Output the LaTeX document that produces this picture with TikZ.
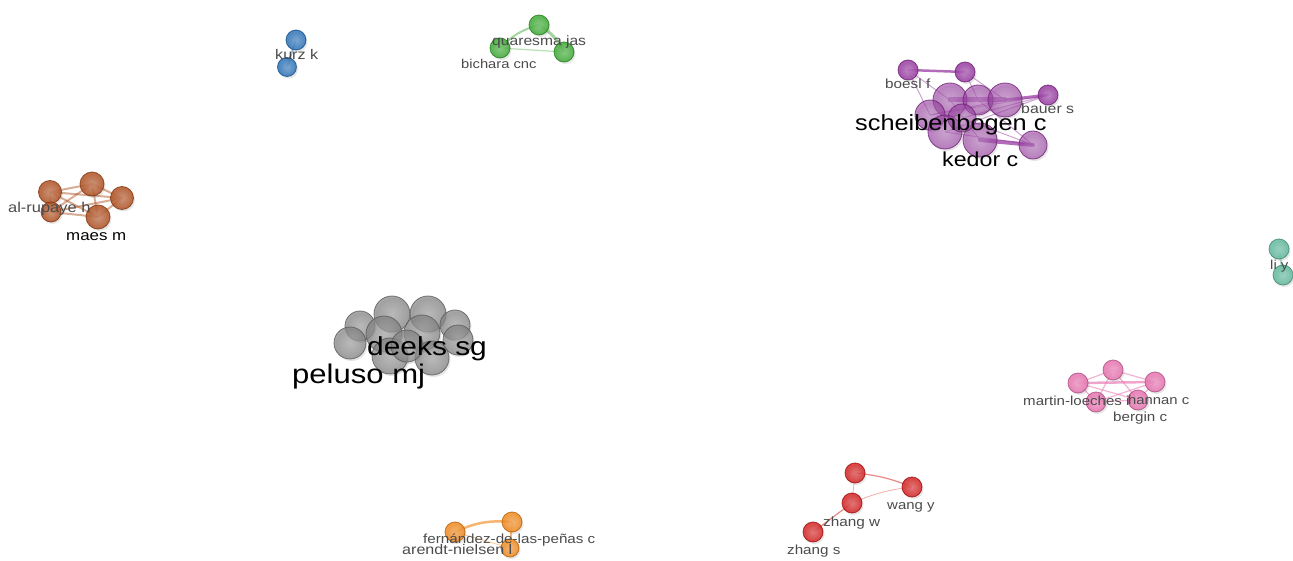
\documentclass[tikz,border=0pt]{standalone}
\usepackage{fontspec}
\setmainfont{Liberation Sans}
\usetikzlibrary{shadows}
\definecolor{brownc}{RGB}{170,70,20}
\definecolor{bluec}{RGB}{30,105,180}
\definecolor{greenc}{RGB}{50,165,40}
\definecolor{purplec}{RGB}{145,45,155}
\definecolor{grayc}{RGB}{120,120,120}
\definecolor{pinkc}{RGB}{230,105,170}
\definecolor{redc}{RGB}{210,20,20}
\definecolor{orangec}{RGB}{240,130,15}
\definecolor{tealc}{RGB}{85,180,150}
\definecolor{labelgray}{RGB}{75,75,75}
\newcommand\sx[1]{\scalebox{1.15}[1]{#1}}
\newcommand\fs[1]{\fontsize{#1}{#1}\selectfont}
\tikzset{
  vn/.style={circle, inner sep=0pt, inner color=#1!65, outer color=#1!95, fill opacity=0.85, draw=#1!75!black, draw opacity=0.8, line width=0.8pt,
    drop shadow={shadow xshift=1.5pt, shadow yshift=-2pt, opacity=0.2}},
  ed/.style={draw=#1, line width=2pt, draw opacity=0.45, line cap=round},
  ted/.style={draw=#1, line width=0.6pt, draw opacity=0.35},
  lbl/.style={anchor=base west, inner sep=0pt, text=labelgray},
  big/.style={anchor=base west, inner sep=0pt, text=black}
}
\begin{document}
\begin{tikzpicture}[x=1pt,y=-1pt]
\useasboundingbox (0,0) rectangle (1293,561);
% ---------- brown cluster
\coordinate (b1) at (50,192);
\coordinate (b2) at (92,184);
\coordinate (b3) at (122,198);
\coordinate (b4) at (51,212);
\coordinate (b5) at (98,217);
\foreach \a/\b in {b1/b2,b1/b3,b1/b5,b4/b2,b4/b3,b4/b5,b2/b3,b2/b5,b5/b3,b1/b4}
  \draw[ed=brownc] (\a) -- (\b);
\node[vn=brownc, minimum size=23pt] (nb1) at (b1) {};
\node[vn=brownc, minimum size=24pt] (nb2) at (b2) {};
\node[vn=brownc, minimum size=23pt] (nb3) at (b3) {};
\node[vn=brownc, minimum size=20pt] (nb4) at (b4) {};
\node[vn=brownc, minimum size=24pt] (nb5) at (b5) {};
% ---------- blue cluster
\coordinate (u1) at (296,40);
\coordinate (u2) at (287,67);
\draw[ed=bluec] (u1) -- (u2);
\node[vn=bluec, minimum size=20pt] (nu1) at (u1) {};
\node[vn=bluec, minimum size=19pt] (nu2) at (u2) {};
% ---------- green cluster
\coordinate (e1) at (539,25);
\coordinate (e2) at (500,48);
\coordinate (e3) at (564,52);
\draw[ed=greenc] (e2) to[bend left=15] (e1);
\draw[ed=greenc, line width=3pt] (e1) to[bend left=15] (e3);
\draw[ted=greenc, line width=1.2pt] (e2) -- (e3);
\node[vn=greenc, minimum size=20pt] (ne1) at (e1) {};
\node[vn=greenc, minimum size=20pt] (ne2) at (e2) {};
\node[vn=greenc, minimum size=20pt] (ne3) at (e3) {};
% ---------- purple cluster
\coordinate (p1) at (908,70);
\coordinate (p2) at (965,72);
\coordinate (p3) at (1048,95);
\coordinate (p4) at (950,100);
\coordinate (p5) at (978,100);
\coordinate (p6) at (1005,100);
\coordinate (p7) at (930,115);
\coordinate (p8) at (945,132);
\coordinate (p9) at (980,140);
\coordinate (p10) at (1033,145);
\coordinate (p11) at (962,118);
\draw[ed=purplec, line width=2.5pt, draw opacity=0.7] (p1) -- (p2);
\draw[ed=purplec, line width=5pt, draw opacity=0.6] (p4) -- (p6);
\draw[ed=purplec, line width=3pt, draw opacity=0.7] (p6) -- (p3);
\draw[ed=purplec, line width=4pt, draw opacity=0.7] (p9) -- (p10);
\foreach \a/\b in {p7/p3,p8/p3,p11/p3,p11/p10,p1/p4,p2/p5,p4/p9,p8/p10,p7/p6,p5/p10,p2/p6,p1/p7}
  \draw[ted=purplec, line width=1pt, draw opacity=0.45] (\a) -- (\b);
\node[vn=purplec, minimum size=20pt] (np1) at (p1) {};
\node[vn=purplec, minimum size=20pt] (np2) at (p2) {};
\node[vn=purplec, minimum size=20pt] (np3) at (p3) {};
\node[vn=purplec, minimum size=34pt, fill opacity=0.6] (np4) at (p4) {};
\node[vn=purplec, minimum size=30pt, fill opacity=0.6] (np5) at (p5) {};
\node[vn=purplec, minimum size=34pt, fill opacity=0.6] (np6) at (p6) {};
\node[vn=purplec, minimum size=30pt, fill opacity=0.6] (np7) at (p7) {};
\node[vn=purplec, minimum size=34pt, fill opacity=0.6] (np8) at (p8) {};
\node[vn=purplec, minimum size=34pt, fill opacity=0.6] (np9) at (p9) {};
\node[vn=purplec, minimum size=28pt, fill opacity=0.6] (np10) at (p10) {};
\node[vn=purplec, minimum size=28pt, fill opacity=0.6] (np11) at (p11) {};
% ---------- gray cluster
\node[vn=grayc, minimum size=30pt, fill opacity=0.7] (g1) at (360,326) {};
\node[vn=grayc, minimum size=36pt, fill opacity=0.7] (g2) at (392,314) {};
\node[vn=grayc, minimum size=36pt, fill opacity=0.7] (g3) at (428,314) {};
\node[vn=grayc, minimum size=30pt, fill opacity=0.7] (g4) at (455,325) {};
\node[vn=grayc, minimum size=32pt, fill opacity=0.7] (g5) at (350,343) {};
\node[vn=grayc, minimum size=36pt, fill opacity=0.7] (g6) at (384,334) {};
\node[vn=grayc, minimum size=36pt, fill opacity=0.7] (g7) at (422,333) {};
\node[vn=grayc, minimum size=30pt, fill opacity=0.7] (g8) at (458,340) {};
\node[vn=grayc, minimum size=36pt, fill opacity=0.7] (g9) at (390,356) {};
\node[vn=grayc, minimum size=34pt, fill opacity=0.7] (g10) at (432,358) {};
\node[vn=grayc, minimum size=32pt, fill opacity=0.7] (g11) at (407,346) {};
% ---------- pink cluster
\coordinate (k1) at (1078,383);
\coordinate (k2) at (1113,370);
\coordinate (k3) at (1155,382);
\coordinate (k4) at (1096,402);
\coordinate (k5) at (1138,400);
\draw[ed=pinkc, line width=2.5pt, draw opacity=0.6] (k1) -- (k3);
\foreach \a/\b in {k1/k2,k2/k3,k1/k4,k1/k5,k2/k4,k2/k5,k3/k4,k3/k5,k4/k5}
  \draw[ted=pinkc, line width=1.2pt, draw opacity=0.5] (\a) -- (\b);
\node[vn=pinkc, minimum size=20pt] (nk1) at (k1) {};
\node[vn=pinkc, minimum size=20pt] (nk2) at (k2) {};
\node[vn=pinkc, minimum size=20pt] (nk3) at (k3) {};
\node[vn=pinkc, minimum size=20pt] (nk4) at (k4) {};
\node[vn=pinkc, minimum size=20pt] (nk5) at (k5) {};
% ---------- red cluster
\coordinate (r1) at (855,473);
\coordinate (r2) at (912,487);
\coordinate (r3) at (852,503);
\coordinate (r4) at (813,532);
\draw[ted=redc, line width=1.2pt, draw opacity=0.5] (r1) to[bend left=8] (r2);
\draw[ted=redc, line width=0.8pt] (r3) to[bend left=8] (r2);
\draw[ted=redc, line width=0.8pt] (r1) -- (r3);
\draw[ted=redc, line width=1.2pt, draw opacity=0.5] (r3) -- (r4);
\node[vn=redc, minimum size=20pt] (nr1) at (r1) {};
\node[vn=redc, minimum size=20pt] (nr2) at (r2) {};
\node[vn=redc, minimum size=20pt] (nr3) at (r3) {};
\node[vn=redc, minimum size=20pt] (nr4) at (r4) {};
% ---------- orange cluster
\coordinate (o1) at (455,532);
\coordinate (o2) at (512,522);
\coordinate (o3) at (510,548);
\draw[ed=orangec, line width=2.5pt, draw opacity=0.6] (o1) to[bend left=15] (o2);
\draw[ed=orangec, draw opacity=0.6] (o2) -- (o3);
\draw[ted=orangec, line width=1pt] (o1) -- (o3);
\node[vn=orangec, minimum size=20pt] (no1) at (o1) {};
\node[vn=orangec, minimum size=20pt] (no2) at (o2) {};
\node[vn=orangec, minimum size=18pt] (no3) at (o3) {};
% ---------- teal cluster
\coordinate (t1) at (1279,249);
\coordinate (t2) at (1283,275);
\draw[ed=tealc] (t1) -- (t2);
\node[vn=tealc, minimum size=20pt] (nt1) at (t1) {};
\node[vn=tealc, minimum size=20pt] (nt2) at (t2) {};
% ---------- labels
\node[lbl, font=\fs{14.3}] (lalr) at (8,213) {\sx{al-rupaye h}};
\node[big, font=\fs{14.7}] (lmaes) at (66,241) {\sx{maes m}};
\node[lbl, font=\fs{14}] (lkurz) at (275,60) {\sx{kurz k}};
\node[lbl, font=\fs{13.6}] (lquar) at (492,46) {\sx{quaresma jas}};
\node[lbl, font=\fs{12.8}] (lbich) at (461,69) {\sx{bichara cnc}};
\node[lbl, font=\fs{13.3}] (lboes) at (885,89) {\sx{boesl f}};
\node[lbl, font=\fs{13.8}] (lbaue) at (1021,114) {\sx{bauer s}};
\node[big, font=\fs{22}] (lsche) at (855,131) {\sx{scheibenbogen c}};
\node[big, font=\fs{20.2}] (lkedo) at (942,167) {\sx{kedor c}};
\node[big, font=\fs{26}] (ldeek) at (367,355) {\sx{deeks sg}};
\node[big, font=\fs{27}] (lpelu) at (292,383) {\sx{peluso mj}};
\node[lbl, font=\fs{13.1}] (lmart) at (1023,405) {\sx{martin-loeches i}};
\node[lbl, font=\fs{12.9}] (lhann) at (1128,404) {\sx{hannan c}};
\node[lbl, font=\fs{13.2}] (lberg) at (1113,421) {\sx{bergin c}};
\node[lbl, font=\fs{13}] (lwang) at (887,509) {\sx{wang y}};
\node[lbl, font=\fs{13.3}] (lzhw) at (823,526) {\sx{zhang w}};
\node[lbl, font=\fs{13.2}] (lzhs) at (787,554) {\sx{zhang s}};
\node[lbl, font=\fs{13.2}] (lfern) at (423,543) {\sx{fernández-de-las-peñas c}};
\node[lbl, font=\fs{14}] (laren) at (402,554) {\sx{arendt-nielsen l}};
\node[lbl, font=\fs{13}] (lliy) at (1270,270) {\sx{li y}};
\end{tikzpicture}
\end{document}
